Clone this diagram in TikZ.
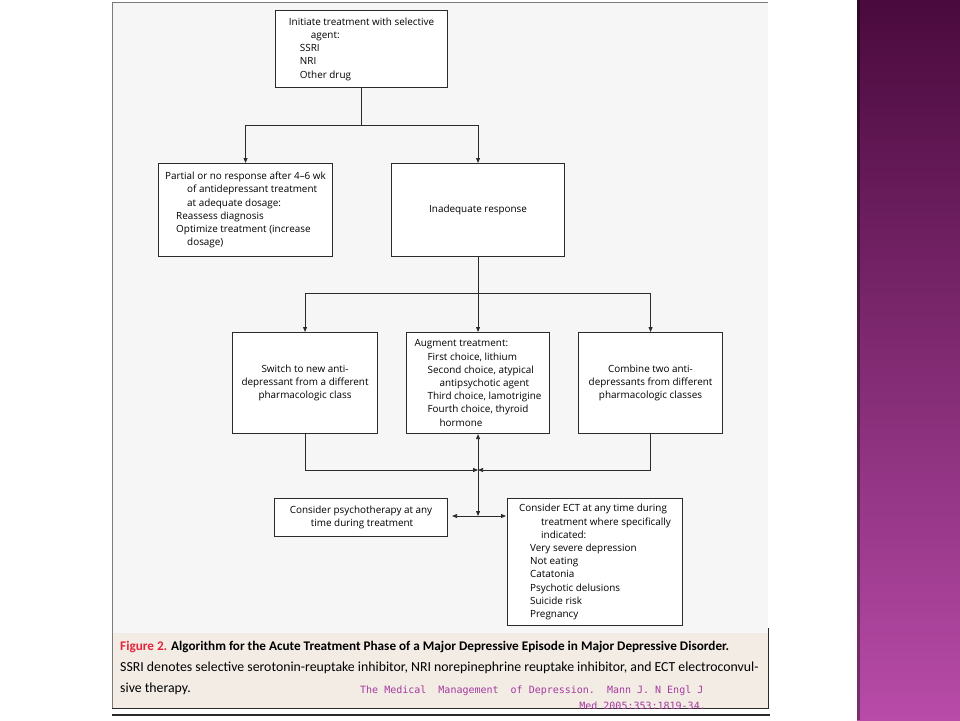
\documentclass[tikz,border=0pt]{standalone}
\usepackage{fontspec}
\setmainfont{Carlito}
\newfontfamily\boxfont{Open Sans}
\newfontfamily\citefont{DejaVu Sans Mono}
\usetikzlibrary{arrows.meta}
\definecolor{panel}{HTML}{F6F6F6}
\definecolor{capbg}{HTML}{F3ECE5}
\definecolor{figred}{HTML}{E3243B}
\definecolor{citecol}{HTML}{A43A9C}
\definecolor{linec}{HTML}{2B2B2B}
\definecolor{framec}{HTML}{7A7A7A}
\definecolor{ptop}{HTML}{4A0A3D}
\definecolor{pmid}{HTML}{8E3784}
\definecolor{pbot}{HTML}{B84BA8}
\newcommand\indt[1]{\hspace*{#1pt}}
\begin{document}
\begin{tikzpicture}[x=1pt,y=-1pt,
  box/.style={draw=linec, line width=1.1pt, fill=white, inner sep=0pt,
    font=\boxfont\fontsize{9.9}{13.2}\selectfont, anchor=north west},
  lbox/.style={box, align=left},
  cbox/.style={box, align=center},
  conn/.style={draw=linec, line width=0.8pt},
  arr/.style={conn, -{Triangle[length=5pt,width=4pt]}},
  arrb/.style={conn, {Triangle[length=5pt,width=4pt]}-{Triangle[length=5pt,width=4pt]}},
  captxt/.style={anchor=base west, inner sep=0pt},
  citetxt/.style={inner sep=0pt, text=citecol, font=\citefont\fontsize{10}{12}\selectfont}
]
\useasboundingbox (0,0) rectangle (960,720);
\fill[white] (0,0) rectangle (960,720);
% panel
\fill[panel] (112,2) rectangle (768,633);
\fill[capbg] (112,633) rectangle (768,708);
\draw[framec, line width=1pt] (112,708) -- (112,2) -- (768,2);
\draw[linec, line width=0.9pt] (768,628) -- (768,708) -- (112,708);
% purple strip
\shade[top color=ptop, middle color=pmid, bottom color=pbot] (857,0) rectangle (960,720);
\fill[black, opacity=0.35] (857,0) rectangle (860,720);

% boxes
\node[lbox, minimum width=172pt, minimum height=77pt] (top) at (275,10) {Initiate treatment with selective\\
\indt{22}agent:\\
\indt{11}SSRI\\
\indt{11}NRI\\
\indt{11}Other drug};

\node[lbox, minimum width=174pt, minimum height=93pt] (partial) at (158,163) {Partial or no response after 4–6 wk\\
\indt{22}of antidepressant treatment\\
\indt{22}at adequate dosage:\\
\indt{11}Reassess diagnosis\\
\indt{11}Optimize treatment (increase\\
\indt{22}dosage)};

\node[cbox, minimum width=173pt, minimum height=93pt] (inad) at (391,163) {Inadequate response};

\node[cbox, minimum width=145pt, minimum height=101pt] (switch) at (232,332) {Switch to new anti-\\depressant from a different\\pharmacologic class};

\node[lbox, minimum width=143pt, minimum height=101pt] (augment) at (406,332) {Augment treatment:\\
\indt{13}First choice, lithium\\
\indt{13}Second choice, atypical\\
\indt{25}antipsychotic agent\\
\indt{13}Third choice, lamotrigine\\
\indt{13}Fourth choice, thyroid\\
\indt{25}hormone};

\node[cbox, minimum width=144pt, minimum height=101pt] (combine) at (578,332) {Combine two anti-\\depressants from different\\pharmacologic classes};

\node[lbox, minimum width=173pt, minimum height=38pt] (psycho) at (274,498) {Consider psychotherapy at any\\
\indt{21}time during treatment};

\node[lbox, minimum width=175pt, minimum height=127pt] (ect) at (507,498) {Consider ECT at any time during\\
\indt{22}treatment where specifically\\
\indt{22}indicated:\\
\indt{11}Very severe depression\\
\indt{11}Not eating\\
\indt{11}Catatonia\\
\indt{11}Psychotic delusions\\
\indt{11}Suicide risk\\
\indt{11}Pregnancy};

% junctions
\coordinate (j1) at (top.south |- 0,125);
\coordinate (j2) at (inad.south |- 0,293);
\coordinate (j3) at (augment.south |- 0,470);
\coordinate (j4) at (augment.south |- 0,516);

\draw[conn] (top.south) -- (j1);
\draw[arr] (j1) -| (partial.north);
\draw[arr] (j1) -| (inad.north);
\draw[conn] (inad.south) -- (j2);
\draw[arr] (j2) -| (switch.north);
\draw[arr] (j2) -- (augment.north);
\draw[arr] (j2) -| (combine.north);
\draw[arr] (switch.south) |- (j3);
\draw[arr] (combine.south) |- (j3);
\draw[arrb] (augment.south) -- (j4);
\draw[arr, shorten >=4pt] (j4) -- (psycho.east |- j4);
\draw[arr, shorten >=1pt] (j4) -- (ect.west |- j4);

% caption
\node[captxt, font=\fontsize{13.2}{15}\selectfont\bfseries] (cap1) at (120,650) {\textcolor{figred}{Figure 2.} Algorithm for the Acute Treatment Phase of a Major Depressive Episode in Major Depressive Disorder.};
\node[captxt, font=\fontsize{13.8}{15}\selectfont] (cap2) at (120,671) {SSRI denotes selective serotonin-reuptake inhibitor, NRI norepinephrine reuptake inhibitor, and ECT electroconvul-};
\node[captxt, font=\fontsize{13.8}{15}\selectfont] (cap3) at (120,692) {sive therapy.};
\node[citetxt, anchor=base west] (cite1) at (360,693) {The Medical\ \ Management\ \ of Depression.\ \ Mann J. N Engl J};
\node[citetxt, anchor=base east] (cite2) at (706,709) {Med 2005;353:1819-34.};
\fill[white] (112,709) rectangle (770,712);
\draw[linec, line width=1.6pt] (112,715) -- (770,715);
\end{tikzpicture}
\end{document}
